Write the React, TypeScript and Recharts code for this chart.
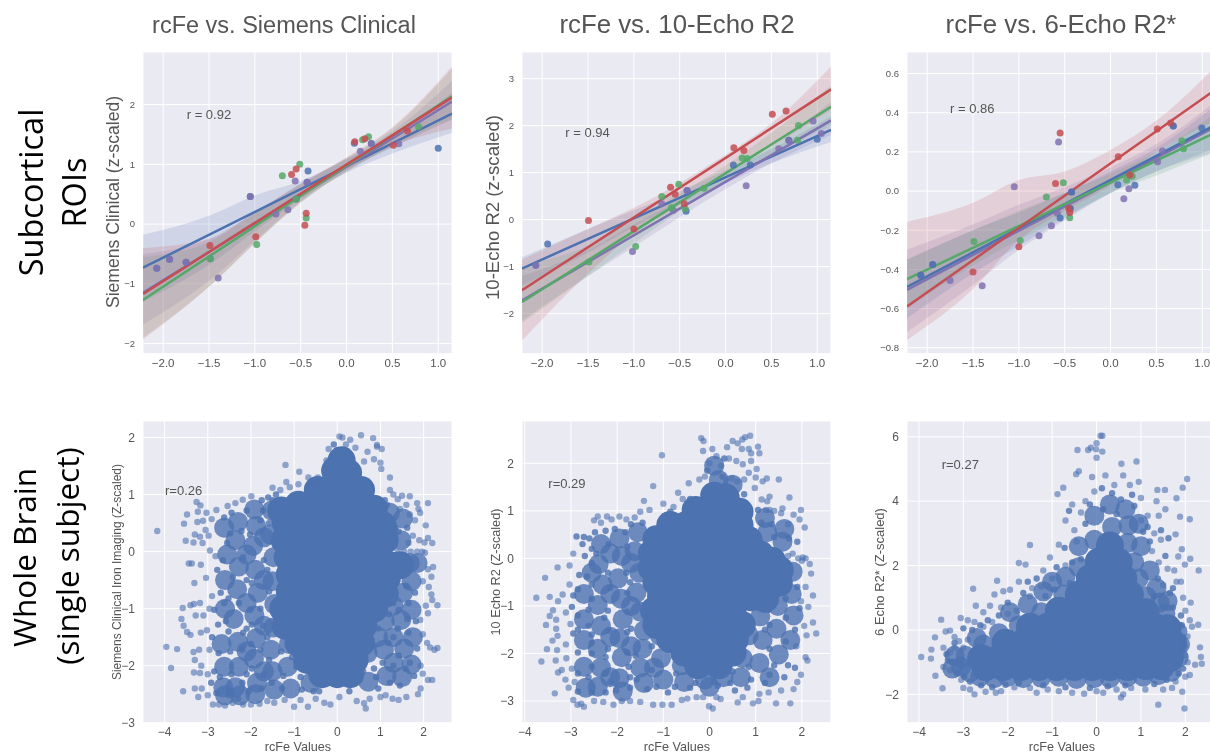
import {
  ComposedChart,
  CartesianGrid,
  XAxis,
  YAxis,
  Area,
  Line,
  Scatter,
} from "recharts";

const BLUE = "#4C72B0";
const GREEN = "#55A868";
const RED = "#C44E52";
const PURPLE = "#8172B2";
const TEXT = "#555555";

// regression lines run edge to edge, bands are read at these x positions
const lineX = [-2.22, 1.15];
const bandX = [-2.22, -1.5, -1, -0.5, 0, 0.5, 1.15];

// --- top row: Siemens Clinical ---
const clinicalBlueLine = [-0.73, 1.85];
const clinicalPurpleLine = [-1.15, 2.05];
const clinicalGreenLine = [-1.27, 2.14];
const clinicalRedLine = [-1.17, 2.12];
const clinicalBlueBand = [[-1.3, -0.18], [-0.68, 0.14], [-0.12, 0.48], [0.42, 0.72], [0.86, 1.08], [1.18, 1.48], [1.53, 2.2]];
const clinicalPurpleBand = [[-1.68, -0.5], [-0.95, -0.25], [-0.28, 0.2], [0.38, 0.68], [0.9, 1.1], [1.28, 1.55], [1.75, 2.4]];
const clinicalGreenBand = [[-1.9, -0.55], [-1.05, -0.3], [-0.32, 0.18], [0.36, 0.66], [0.88, 1.1], [1.3, 1.6], [1.75, 2.6]];
const clinicalRedBand = [[-1.93, -0.4], [-1.05, -0.25], [-0.32, 0.2], [0.36, 0.68], [0.88, 1.12], [1.3, 1.62], [1.6, 2.64]];
const clinicalBluePts = [[-2.07, -0.74], [-1.93, -0.59], [-1.75, -0.64], [-1.05, 0.46], [-0.55, 0.42], [-0.43, 0.7], [-0.42, 0.89], [0.085, 1.355], [0.27, 1.35], [1.0, 1.27]];
const clinicalPurplePts = [[-2.07, -0.74], [-1.93, -0.59], [-1.75, -0.64], [-1.485, -0.58], [-1.4, -0.9], [-1.05, 0.46], [-0.77, 0.17], [-0.64, 0.24], [-0.56, 0.72], [-0.55, 0.42], [-0.43, 0.7], [0.15, 1.22], [0.27, 1.35], [0.57, 1.345]];
const clinicalGreenPts = [[-1.485, -0.58], [-0.98, -0.34], [-0.7, 0.81], [-0.55, 0.42], [-0.51, 1.0], [-0.44, 0.1], [0.175, 1.41], [0.24, 1.46], [0.785, 1.63]];
const clinicalRedPts = [[-1.49, -0.36], [-0.99, -0.21], [-0.6, 0.83], [-0.55, 0.92], [-0.455, -0.02], [-0.44, 0.18], [0.09, 1.38], [0.2, 1.43], [0.51, 1.32], [0.665, 1.56]];

// --- top row: 10-Echo R2 ---
const echo10BlueLine = [-1.04, 1.91];
const echo10PurpleLine = [-1.72, 2.11];
const echo10GreenLine = [-1.75, 2.4];
const echo10RedLine = [-1.5, 2.77];
const echo10BlueBand = [[-1.4, -0.8], [-0.7, -0.2], [-0.15, 0.2], [0.32, 0.6], [0.78, 1.05], [1.2, 1.5], [1.65, 2.2]];
const echo10PurpleBand = [[-2.15, -1.2], [-1.2, -0.65], [-0.58, -0.1], [0.05, 0.42], [0.65, 0.98], [1.2, 1.55], [1.8, 2.5]];
const echo10GreenBand = [[-2.2, -1.0], [-1.2, -0.55], [-0.5, 0.0], [0.18, 0.55], [0.82, 1.15], [1.38, 1.85], [2.0, 2.85]];
const echo10RedBand = [[-2.57, -0.85], [-1.15, -0.2], [-0.3, 0.25], [0.3, 0.78], [0.98, 1.38], [1.55, 2.05], [2.33, 3.26]];
const echo10BluePts = [[-2.07, -0.97], [-1.94, -0.52], [-0.43, 0.18], [-0.42, 0.62], [0.085, 1.16], [0.27, 1.16], [0.69, 1.69], [1.0, 1.71]];
const echo10PurplePts = [[-2.07, -0.97], [-1.015, -0.68], [-0.695, 0.34], [-0.57, 0.2], [-0.42, 0.62], [0.225, 0.72], [0.58, 1.51], [0.69, 1.69], [0.955, 2.1], [1.045, 1.83]];
const echo10GreenPts = [[-1.49, -0.9], [-0.98, -0.57], [-0.695, 0.49], [-0.59, 0.25], [-0.51, 0.75], [-0.44, 0.23], [-0.235, 0.67], [0.18, 1.31], [0.235, 1.3], [0.785, 1.69], [0.795, 2.0]];
const echo10RedPts = [[-1.495, -0.02], [-1.0, -0.2], [-0.6, 0.69], [-0.55, 0.54], [-0.45, 0.34], [0.09, 1.53], [0.2, 1.47], [0.51, 2.24], [0.66, 2.31]];

// --- top row: 6-Echo R2* ---
const echo6BlueLine = [-0.49, 0.34];
const echo6PurpleLine = [-0.505, 0.33];
const echo6GreenLine = [-0.45, 0.3];
const echo6RedLine = [-0.59, 0.52];
const echo6BlueBand = [[-0.65, -0.35], [-0.42, -0.2], [-0.28, -0.11], [-0.14, -0.01], [-0.01, 0.1], [0.1, 0.22], [0.22, 0.44]];
const echo6PurpleBand = [[-0.72, -0.3], [-0.48, -0.17], [-0.3, -0.07], [-0.15, 0.02], [-0.01, 0.12], [0.1, 0.24], [0.2, 0.46]];
const echo6GreenBand = [[-0.6, -0.35], [-0.38, -0.2], [-0.25, -0.1], [-0.13, -0.01], [-0.01, 0.09], [0.08, 0.2], [0.2, 0.4]];
const echo6RedBand = [[-0.76, -0.157], [-0.5, -0.06], [-0.25, 0.056], [-0.1, 0.1], [0.03, 0.21], [0.2, 0.36], [0.36, 0.64]];
const echo6BluePts = [[-2.07, -0.43], [-1.94, -0.375], [-0.55, -0.138], [-0.44, -0.089], [-0.425, -0.005], [0.08, 0.032], [0.265, 0.029], [0.684, 0.332], [0.996, 0.322]];
const echo6PurplePts = [[-2.07, -0.43], [-1.94, -0.375], [-1.75, -0.457], [-1.4, -0.484], [-1.05, 0.022], [-0.78, -0.228], [-0.645, -0.177], [-0.58, -0.114], [-0.567, 0.25], [-0.44, -0.089], [-0.425, -0.005], [0.145, -0.039], [0.2, 0.012], [0.513, 0.15], [0.567, 0.204], [0.684, 0.332]];
const echo6GreenPts = [[-1.49, -0.257], [-0.985, -0.252], [-0.7, -0.031], [-0.515, 0.043], [-0.445, -0.136], [0.175, 0.056], [0.236, 0.075], [0.778, 0.257], [0.796, 0.216]];
const echo6RedPts = [[-1.5, -0.414], [-1.0, -0.285], [-0.6, 0.039], [-0.55, 0.296], [-0.455, -0.089], [-0.445, -0.109], [0.084, 0.175], [0.21, 0.082], [0.51, 0.317], [0.655, 0.348]];

// --- bottom row clouds: the solid centre is thousands of overlapping dots in the
// original, so it is thinned to big dots (core), medium dots (mid) and single dots (edge, speck) ---
const clinicalCore = [[0.1, 1.6], [-0.05, 1.42], [0.25, 1.38], [-0.45, 1.08], [-0.1, 1.12], [0.25, 1.1], [0.55, 1.08], [-1.3, 0.72], [-0.9, 0.82], [-0.55, 0.8], [-0.15, 0.82], [0.2, 0.8], [0.55, 0.78], [0.85, 0.75], [-1.2, 0.52], [-0.8, 0.5], [-0.4, 0.5], [0, 0.5], [0.4, 0.5], [0.8, 0.5], [1.05, 0.46], [-1.22, 0.2], [-0.8, 0.2], [-0.4, 0.2], [0, 0.2], [0.4, 0.2], [0.82, 0.2], [1.1, 0.2], [-1.15, -0.1], [-0.75, -0.1], [-0.35, -0.1], [0.05, -0.1], [0.45, -0.1], [0.85, -0.1], [1.2, -0.24], [1.45, -0.24], [-1.1, -0.4], [-0.7, -0.4], [-0.3, -0.4], [0.1, -0.4], [0.5, -0.4], [0.9, -0.42], [1.15, -0.46], [-1.1, -0.7], [-0.7, -0.7], [-0.3, -0.7], [0.1, -0.7], [0.5, -0.7], [0.85, -0.72], [1.1, -0.74], [-1.25, -1.0], [-1.0, -1.0], [-0.6, -1.0], [-0.2, -1.0], [0.2, -1.0], [0.55, -1.0], [0.85, -1.0], [-1.2, -1.3], [-0.9, -1.3], [-0.5, -1.3], [-0.1, -1.3], [0.3, -1.3], [0.6, -1.3], [-0.9, -1.6], [-0.6, -1.6], [-0.25, -1.6], [0.1, -1.6], [0.3, -1.55], [0.55, -1.6], [-0.7, -1.9], [-0.38, -1.9], [-0.05, -1.9], [0.15, -1.9], [0.4, -1.9], [-0.35, -2.15], [0, -2.15], [0.3, -2.15]];
const clinicalMid = [[-1.52, 0.72], [-1.56, 0.3], [-1.48, -0.1], [-1.5, -0.52], [-1.46, -0.92], [-1.48, -1.33], [-1.54, -1.72], [-1.5, -2.1], [-1.46, -2.42], [-1.92, 0.74], [-1.88, 0.45], [-1.95, 0.1], [-1.9, -0.32], [-1.84, -0.72], [-1.92, -1.12], [-1.88, -1.52], [-1.93, -1.88], [-1.86, -2.3], [-1.9, -2.5], [-2.3, 0.52], [-2.36, 0.2], [-2.28, -0.26], [-2.32, -0.66], [-2.4, -1.18], [-2.3, -1.58], [-2.28, -2.02], [-2.36, -2.38], [-2.25, -2.52], [-2.68, -1.62], [-2.62, -2.02], [-2.64, -2.38], [-2.6, -2.52], [-1.12, -1.62], [-1.15, -2.02], [-1.08, -2.4], [-0.62, -2.3], [0.35, -2.1], [0.7, -1.78], [0.72, -2.28], [1.1, -1.22], [1.08, -1.72], [1.14, -2.18], [1.52, -0.72], [1.48, -1.2], [1.55, -1.7], [1.5, -2.2], [1.72, -0.52], [1.72, -1.02], [1.75, -1.5], [1.72, -1.98], [1.22, 0.68], [1.18, 0.38], [1.52, 0.58], [1.48, 0.2], [1.68, -0.2], [1.86, -0.2], [-2.62, 0.42], [-2.6, -0.5], [-2.6, -1.0], [-2.1, -0.05], [-2.1, -0.9], [-2.1, -1.75], [-1.7, 0.25], [-1.7, -0.5], [-1.7, -1.3], [-1.7, -2.1], [-2.55, -0.05], [1.3, -0.95], [1.3, -1.5], [1.3, -1.95], [0.95, -1.5]];
const clinicalEdge = [[-4.17, 0.36], [-3.96, -1.67], [-3.71, -1.71], [-3.85, -2.04], [-3.57, -2.45], [-3.61, -1.18], [-3.58, -0.99], [-3.56, -1.3], [-3.48, -1.41], [-3.4, -1.46], [-3.44, -0.21], [-3.37, -0.21], [-3.16, -0.23], [-3.31, -0.55], [-3.04, -0.46], [-3.26, 0.87], [-3.17, 0.81], [-3.48, 0.65], [-3.55, 0.49], [-3.51, 0.19], [-3.23, 0.7], [-3.03, 0.68], [-3.24, 0.52], [-3.11, 0.54], [-2.91, 0.57], [-2.8, 0.73], [-2.54, 0.8], [-2.36, 0.85], [-2.19, 0.91], [-1.99, 0.97], [-3.3, 0.3], [-3.18, 0.26], [-3.05, 0.38], [-3.12, 0.15], [-3.33, 0.16], [-2.95, 0.02], [-2.82, -0.08], [-2.98, 0.28], [-3.4, -0.94], [-3.32, -0.92], [-3.18, -0.9], [-3.1, -1.12], [-3.28, -1.12], [-3.02, -1.38], [-3.16, -1.42], [-2.9, -0.78], [-2.96, -1.0], [-3.33, -1.76], [-3.2, -1.72], [-3.3, -1.9], [-3.15, -2.0], [-3.32, -2.12], [-3.18, -2.13], [-3.3, -2.4], [-3.22, -2.55], [-3.14, -2.4], [-3.0, -2.52], [-2.96, -1.72], [-3.0, -2.15], [-2.88, -2.68], [-2.74, -2.68], [-2.6, -2.7], [-2.42, -2.65], [-2.18, -2.68], [-2.0, -2.68], [-1.8, -2.67], [-1.62, -2.62], [-1.46, -2.65], [-1.22, -2.6], [-1.0, -2.72], [-0.85, -2.6], [-0.68, -2.72], [-0.5, -2.58], [-0.3, -2.65], [-0.16, -2.68], [0.05, -2.55], [0.45, -2.62], [0.62, -2.66], [0.66, -2.75], [0.75, -2.58], [1.0, -2.55], [1.12, -2.52], [1.28, -2.58], [1.42, -2.6], [1.6, -2.55], [1.87, -2.5], [1.93, -2.4], [2.1, -2.25], [2.2, -2.25], [1.93, -2.0], [1.98, -2.14], [2.08, -1.6], [2.15, -1.68], [2.32, -1.69], [2.25, -1.72], [1.98, -1.45], [1.92, -1.2], [2.1, -1.08], [2.05, -0.95], [2.18, -0.75], [2.32, -0.94], [2.2, -0.85], [2.12, -0.62], [2.18, -0.44], [2.1, -0.31], [2.22, -0.27], [1.98, -0.52], [2.2, 0.15], [2.02, 0.16], [2.1, 0.24], [2.05, 0.46], [1.92, 0.68], [2.1, 0.85], [1.85, 0.85], [1.88, 0.75], [1.8, 0.55], [1.68, 0.65], [1.6, 0.82], [1.68, 0.97], [1.5, 0.98], [1.3, 1.0], [1.4, 0.92], [1.45, 0.75], [1.22, 1.08], [1.22, 1.3], [1.0, 1.56], [1.03, 1.8], [0.92, 1.84], [0.92, 1.87], [0.83, 1.99], [0.55, 2.04], [0.3, 1.96], [0.05, 2.02], [0.12, 2.0], [0.2, 1.88], [0.42, 1.82], [0.7, 1.75], [0.85, 1.62], [0.62, 1.58], [1.02, 1.45], [-1.2, 1.52], [-0.88, 1.4], [-0.67, 1.3], [-0.2, 1.8], [-0.25, 1.6], [-0.12, 1.66], [-1.18, 1.22], [-1.5, 1.12], [-1.32, 1.08], [-1.1, 1.13], [-0.9, 1.18], [-0.6, 1.22], [-0.45, 1.3], [1.4, 0.0], [1.55, 0.0], [1.7, 0.0], [1.85, 0.0], [1.97, 0.0], [2.03, -0.02], [1.65, 0.15], [1.75, 0.28], [1.9, 0.2]];
const clinicalSpeck = [[-2.62, 0.6], [-2.45, 0.68], [-2.1, 0.72], [-1.75, 0.9], [-1.6, 0.95], [-2.55, 0.15], [-2.78, -0.32], [-2.7, -0.72], [-2.52, -0.82], [-2.76, -1.28], [-2.9, -1.5], [-2.85, -2.1], [-2.52, -1.4], [-2.1, -1.35], [-1.7, -0.15], [-1.72, -1.3], [-2.1, -0.5], [-1.7, -2.15], [-2.1, -2.15], [-1.25, -2.18], [-0.85, -2.2], [-0.42, -2.45], [0.28, -2.45], [0.85, -2.05], [0.95, -2.4], [1.3, -1.5], [1.3, -2.0], [1.65, -1.42], [1.68, -1.95], [1.3, -0.9], [1.65, -0.9], [0.95, -1.35], [-2.48, 0.32], [-2.22, 0.36], [-2.02, 0.3], [-1.78, 0.55], [-1.58, 0.5], [-2.65, -0.15], [-2.42, -0.45], [-2.18, -0.1], [-1.98, -0.55], [-1.62, -0.32], [-2.62, -0.9], [-2.28, -0.9], [-2.02, -1.02], [-1.78, -1.0], [-1.58, -0.7], [-2.85, -1.02], [-2.58, -1.22], [-2.18, -1.42], [-1.98, -1.28], [-1.62, -1.5], [-2.75, -1.78], [-2.48, -1.75], [-2.2, -1.72], [-2.0, -1.62], [-1.78, -1.72], [-1.58, -1.9], [-2.92, -2.3], [-2.72, -2.2], [-2.45, -2.15], [-2.2, -2.3], [-1.98, -2.05], [-1.75, -2.4], [-1.52, -2.3], [-2.8, -2.48], [-2.5, -2.52], [-2.3, -2.58], [-2.05, -2.45], [-1.3, -1.75], [-1.28, -2.4], [-1.05, -1.85], [-0.95, -2.02], [-0.82, -2.42], [-0.62, -2.12], [-0.55, -2.45], [0.5, -2.25], [0.6, -2.1], [0.85, -1.65], [0.9, -2.2], [1.05, -1.95], [1.2, -1.1], [1.18, -1.6], [1.22, -2.3], [1.42, -1.02], [1.4, -1.35], [1.42, -1.82], [1.45, -2.35], [1.6, -0.6], [1.62, -1.18], [1.58, -2.05], [1.8, -0.72], [1.82, -1.22], [1.85, -1.7], [1.78, -2.18], [1.35, 0.42], [1.25, 0.52], [1.62, 0.42], [1.42, 0.35], [1.1, 0.9], [1.15, 0.82], [-1.5, 0.9], [-1.72, 0.72], [-1.42, 1.0], [0.0, 1.78], [0.25, 1.7], [-0.08, 1.88]];

const echo10Core = [[0.1, 1.32], [0.35, 1.28], [-0.3, 1.02], [0.05, 1.0], [0.4, 1.0], [0.65, 0.98], [-0.85, 0.7], [-0.5, 0.7], [-0.1, 0.7], [0.3, 0.7], [0.65, 0.7], [-1.15, 0.4], [-0.75, 0.4], [-0.35, 0.4], [0.05, 0.4], [0.45, 0.4], [0.85, 0.38], [-1.25, 0.1], [-0.85, 0.1], [-0.45, 0.1], [-0.05, 0.1], [0.35, 0.1], [0.75, 0.1], [1.1, 0.08], [1.35, -0.05], [-1.25, -0.2], [-0.85, -0.2], [-0.45, -0.2], [-0.05, -0.2], [0.35, -0.2], [0.75, -0.2], [1.15, -0.2], [1.52, -0.25], [-1.15, -0.5], [-0.75, -0.5], [-0.35, -0.5], [0.05, -0.5], [0.45, -0.5], [0.85, -0.5], [1.2, -0.5], [1.5, -0.52], [-1.05, -0.8], [-0.65, -0.8], [-0.25, -0.8], [0.15, -0.8], [0.5, -0.8], [0.9, -0.82], [1.2, -0.85], [-1.2, -1.1], [-0.95, -1.1], [-0.55, -1.1], [-0.15, -1.1], [0.2, -1.1], [0.5, -1.08], [-1.15, -1.4], [-0.7, -1.4], [-0.3, -1.4], [0.1, -1.4], [0.4, -1.38], [0.7, -1.4], [-0.85, -1.7], [-0.45, -1.7], [-0.1, -1.7], [0.25, -1.7], [0.55, -1.7], [-0.55, -1.98], [-0.15, -1.98], [0.2, -1.98], [0.5, -1.98], [-0.25, -2.25], [0.2, -2.25]];
const echo10Mid = [[-1.55, 0.55], [-1.62, 0.15], [-1.52, -0.3], [-1.58, -0.72], [-1.5, -1.12], [-1.42, -1.52], [-1.45, -1.9], [-1.5, -2.3], [-1.42, -2.62], [-1.95, 0.42], [-1.9, 0.05], [-1.98, -0.42], [-1.92, -0.85], [-1.88, -1.28], [-1.95, -1.68], [-1.9, -2.08], [-1.95, -2.52], [-1.88, -2.8], [-2.35, 0.3], [-2.4, -0.12], [-2.32, -0.55], [-2.42, -0.98], [-2.35, -1.42], [-2.42, -1.9], [-2.35, -2.3], [-2.42, -2.7], [-2.72, -0.75], [-2.72, -1.28], [-2.72, -1.72], [-2.72, -2.28], [-2.68, -2.72], [-1.08, -1.62], [-1.05, -2.1], [-1.0, -2.55], [-0.6, -2.25], [-0.55, -2.6], [-0.1, -2.55], [0.3, -2.5], [0.85, -1.62], [0.72, -2.1], [0.68, -2.5], [1.1, -1.22], [1.15, -1.72], [1.08, -2.2], [1.48, -1.0], [1.45, -1.48], [1.5, -2.02], [1.78, -0.75], [1.82, -1.2], [1.75, -1.72], [1.25, 0.55], [1.2, 0.85], [1.58, 0.35], [1.62, 0.62], [1.8, -0.28], [0.2, 1.65], [0.1, 1.95], [0.5, 1.55], [-2.15, 0.1], [-2.15, -0.75], [-2.15, -1.65], [-2.15, -2.5], [-1.7, -0.1], [-1.7, -1.0], [-1.7, -1.85], [-1.2, -2.3], [0.0, -2.7], [1.3, -2.5], [-2.55, -0.3]];
const echo10Edge = [[-3.75, -0.83], [-3.56, -0.41], [-3.29, -0.19], [-3.03, -0.15], [-2.95, 0.1], [-3.46, -0.81], [-3.28, -0.9], [-3.18, -0.76], [-3.03, -0.55], [-3.39, -1.09], [-3.46, -1.21], [-3.54, -1.4], [-3.32, -1.29], [-3.32, -1.48], [-3.29, -1.63], [-3.4, -1.73], [-3.52, -1.91], [-3.3, -1.93], [-3.64, -2.17], [-3.33, -2.15], [-3.35, -2.84], [-3.11, -1.14], [-3.01, -1.38], [-3.11, -1.81], [-3.1, -2.1], [-3.28, -2.4], [-3.2, -2.35], [-3.12, -2.55], [-3.05, -2.72], [-2.98, -2.32], [-2.92, -2.6], [-2.95, -2.98], [-2.86, -3.08], [-2.78, -3.06], [-2.72, -3.12], [-2.5, -3.0], [-2.3, -3.02], [-2.08, -3.08], [-1.9, -3.0], [-1.72, -3.0], [-1.5, -3.02], [-1.22, -3.08], [-1.02, -3.08], [-0.82, -3.08], [-0.6, -2.98], [-0.48, -2.95], [-0.28, -2.92], [-0.14, -2.92], [-0.01, -3.11], [0.07, -3.16], [0.15, -2.92], [0.24, -2.96], [0.61, -3.03], [0.72, -2.92], [0.94, -3.05], [1.06, -3.0], [1.08, -2.85], [1.28, -2.82], [1.44, -3.05], [1.55, -2.78], [1.75, -3.05], [1.82, -2.75], [1.9, -2.6], [1.98, -2.45], [2.12, -2.15], [2.08, -2.08], [1.88, -1.85], [2.1, -1.62], [2.31, -1.58], [2.24, -1.35], [2.05, -1.42], [2.14, -1.02], [2.24, -0.78], [2.2, -0.32], [2.17, -0.12], [2.08, -0.6], [1.98, -0.9], [2.02, 0.02], [2.08, 0.0], [2.0, -0.05], [1.92, 0.0], [1.8, 0.1], [1.7, 0.05], [2.06, 0.65], [1.98, 1.02], [1.95, 0.82], [1.82, 0.92], [1.7, 0.72], [1.55, 0.95], [1.58, 1.05], [1.4, 1.0], [1.3, 1.02], [1.22, 1.02], [1.3, 1.3], [1.25, 1.2], [1.13, 1.24], [1.73, 1.28], [1.5, 1.66], [1.24, 1.68], [1.15, 1.62], [1.0, 1.7], [0.98, 1.48], [0.75, 1.66], [0.6, 1.62], [0.48, 1.68], [1.05, 2.35], [1.08, 2.21], [0.9, 2.21], [0.88, 2.58], [0.77, 2.55], [0.71, 2.5], [0.61, 2.42], [0.5, 2.47], [0.38, 2.34], [0.85, 2.3], [0.7, 2.3], [0.58, 2.05], [0.42, 2.1], [0.72, 1.98], [0.9, 2.05], [1.02, 1.88], [0.85, 1.8], [0.06, 2.3], [-0.14, 2.26], [-0.18, 2.53], [-0.13, 2.47], [0.15, 2.15], [0.25, 1.95], [0.0, 2.0], [-0.1, 1.72], [-0.22, 1.66], [-1.03, 2.17], [-1.22, 1.52], [-1.42, 1.21], [-0.68, 1.38], [-0.58, 1.25], [-0.45, 1.58], [-1.0, 1.15], [-0.78, 1.08], [-1.3, 1.02], [-1.5, 0.98], [-1.62, 0.86], [-1.8, 0.82], [-1.95, 0.88], [-2.12, 0.82], [-2.22, 0.88], [-2.35, 0.75], [-2.42, 0.88], [-2.5, 0.8]];
const echo10Speck = [[-2.6, 0.42], [-2.75, 0.3], [-2.7, 0.05], [-2.88, 0.46], [-2.72, 0.45], [-2.55, 0.2], [-2.45, 0.1], [-2.65, -0.38], [-2.85, -0.65], [-2.95, -0.78], [-2.98, -1.02], [-2.62, -1.08], [-2.55, -1.6], [-2.95, -1.58], [-2.55, -2.0], [-2.62, -2.5], [-2.2, -1.1], [-2.2, -1.9], [-2.15, -2.6], [-1.72, -0.5], [-1.7, -1.48], [-1.72, -2.5], [-1.25, -1.85], [-1.25, -2.35], [-0.75, -2.7], [-0.3, -2.62], [0.1, -2.6], [0.45, -2.62], [0.9, -2.55], [1.3, -2.45], [1.3, -1.9], [1.65, -1.75], [1.7, -2.25], [1.65, -1.25], [1.3, -1.4], [-2.25, 0.58], [-2.05, 0.62], [-1.82, 0.55], [-1.7, 0.72], [-1.45, 0.75], [-2.48, 0.55], [-2.18, 0.3], [-1.78, 0.25], [-2.55, -0.1], [-2.2, -0.3], [-1.8, -0.3], [-2.82, -0.35], [-2.55, -0.55], [-2.15, -0.62], [-1.78, -0.72], [-2.85, -1.2], [-2.55, -0.85], [-2.28, -1.25], [-1.78, -1.12], [-2.85, -1.5], [-2.62, -1.42], [-2.18, -1.52], [-1.78, -1.55], [-2.85, -1.98], [-2.55, -1.78], [-2.25, -2.08], [-1.78, -1.98], [-1.6, -2.05], [-2.85, -2.42], [-2.55, -2.28], [-2.25, -2.42], [-1.75, -2.28], [-1.58, -2.55], [-2.85, -2.8], [-2.55, -2.82], [-2.25, -2.82], [-2.02, -2.78], [-1.72, -2.72], [-1.35, -2.75], [-1.15, -2.7], [-0.9, -2.82], [-0.42, -2.72], [-0.72, -2.42], [-0.38, -2.38], [0.18, -2.68], [0.5, -2.38], [0.55, -2.78], [0.85, -2.28], [0.82, -2.72], [1.2, -2.62], [1.2, -1.5], [1.28, -1.08], [1.4, -2.25], [1.62, -2.5], [1.85, -2.3], [1.85, -1.5], [1.95, -1.05], [1.9, -0.6], [1.65, -0.85], [1.4, 0.45], [1.35, 0.72], [1.72, 0.42], [1.9, 0.35], [1.12, 0.75], [1.05, 1.02], [0.32, 2.1], [-0.05, 1.85], [0.28, 1.72], [0.75, 1.35], [-0.42, 1.25], [-0.85, 0.98]];

const echo6Core = [[0.3, 2.62], [0.05, 2.12], [0.5, 2.1], [-0.15, 1.6], [0.25, 1.6], [0.6, 1.6], [-0.4, 1.1], [0, 1.1], [0.4, 1.1], [0.75, 1.1], [-0.85, 0.6], [-0.45, 0.6], [-0.05, 0.6], [0.35, 0.6], [0.75, 0.6], [1.1, 0.55], [-1.5, 0.1], [-1.1, 0.1], [-0.7, 0.1], [-0.3, 0.1], [0.1, 0.1], [0.5, 0.1], [0.9, 0.1], [1.3, 0.1], [1.6, 0.05], [-2.05, -0.4], [-1.65, -0.4], [-1.25, -0.4], [-0.85, -0.4], [-0.45, -0.4], [-0.05, -0.4], [0.35, -0.4], [0.75, -0.4], [1.15, -0.4], [1.5, -0.4], [1.72, -0.42], [-2.6, -0.88], [-2.2, -0.88], [-1.8, -0.88], [-1.4, -0.88], [-1.0, -0.88], [-0.6, -0.88], [-0.2, -0.88], [0.2, -0.88], [0.6, -0.88], [1.0, -0.88], [1.35, -0.88], [1.65, -0.88], [-2.5, -1.15], [-2.1, -1.15], [-1.7, -1.15], [-1.3, -1.15], [-0.9, -1.15], [-0.5, -1.15], [-0.1, -1.15], [0.3, -1.15], [0.7, -1.15], [1.1, -1.12], [1.45, -1.12]];
const echo6Mid = [[-2.85, -1.32], [-2.62, -1.45], [-2.3, -1.5], [-2.0, -1.45], [-1.65, -1.5], [-1.25, -1.48], [-0.85, -1.45], [-0.45, -1.52], [-0.05, -1.5], [0.3, -1.5], [0.7, -1.45], [1.05, -1.45], [1.4, -1.4], [1.68, -1.3], [1.85, -0.85], [1.88, -0.45], [1.82, -0.05], [1.55, 0.5], [1.42, 0.85], [1.12, 1.05], [0.95, 1.6], [0.85, 2.1], [0.7, 2.7], [0.35, 3.2], [0.72, 3.25], [-0.05, 2.8], [-0.4, 1.95], [-0.75, 1.1], [-1.25, 0.55], [-1.75, 0.15], [-2.2, -0.1], [-2.55, -0.45], [-2.95, -0.8], [-3.05, -1.15], [-1.55, 0.8], [-1.0, 1.5], [0.3, 3.9], [0.65, 3.75], [-0.05, 3.55], [1.35, 1.3], [1.6, 0.9], [-2.7, -0.25], [-1.95, 0.55], [-1.2, 1.2], [-0.7, 1.65], [-0.4, 2.6], [1.2, 1.85], [1.0, 2.6], [0.95, 3.3], [-3.2, -0.8], [-3.25, -1.2]];
const echo6Edge = [[-3.95, -0.84], [-3.72, -0.61], [-3.73, -0.89], [-3.64, -0.23], [-3.63, -1.42], [-3.47, -1.81], [-3.5, 0.32], [-3.06, 0.37], [-2.78, 1.28], [-2.24, 1.53], [-1.75, 2.08], [-1.6, 2.03], [-1.5, 2.64], [-0.88, 4.22], [-0.75, 4.42], [-0.43, 5.59], [-0.46, 4.84], [-0.4, 4.93], [-0.19, 5.59], [-0.13, 5.66], [-0.01, 5.61], [0, 5.8], [0.09, 6.03], [0.13, 6.03], [0, 5.35], [0.13, 5.54], [0.56, 5.16], [0.9, 5.23], [2.04, 4.69], [1.94, 4.42], [1.37, 4.35], [1.54, 4.35], [1.8, 4.09], [2.1, 3.44], [1.88, 3.52], [1.78, 2.97], [1.92, 2.51], [2.11, 2.21], [2.3, 1.85], [1.99, 2.03], [1.84, 2.28], [2.29, 0.16], [2.33, -0.54], [2.35, -0.84], [2.37, -1.05], [2.22, -1.08], [1.39, -2.32], [1.98, -2.44], [0.6, -2.0], [0.55, -2.1], [-3.4, -0.05], [-3.3, -0.02], [-3.2, -0.22], [-3.45, -0.55], [-3.3, -0.7], [-3.2, -0.55], [-3.35, -0.95], [-3.45, -1.15], [-3.3, -1.25], [-3.15, -1.35], [-3.05, -1.55], [-3.0, -1.8], [-2.85, -1.85], [-2.75, -2.0], [-2.5, -1.92], [-2.27, -1.95], [-2.15, -1.9], [-1.85, -1.78], [-1.5, -1.8], [-1.35, -1.95], [-1.1, -1.85], [-0.85, -1.9], [-0.55, -1.95], [-0.28, -1.98], [0, -1.9], [0.15, -1.95], [0.45, -1.85], [0.78, -1.8], [1.1, -1.85], [1.5, -1.85], [1.7, -1.8], [1.93, -1.92], [1.78, -1.6], [2.0, -1.45], [2.1, -1.4], [2.05, -1.0], [2.0, -0.8], [1.98, -0.5], [2.05, -0.2], [2.15, 0.1], [2.1, 0.3], [2.0, 0.6], [2.12, 0.85], [1.95, 1.0], [1.8, 1.5], [1.9, 1.5], [1.75, 1.85], [1.6, 1.9], [1.5, 1.4], [1.4, 2.1], [1.25, 2.45], [1.45, 2.8], [1.3, 3.0], [1.0, 3.4], [1.15, 3.55], [1.4, 3.55], [1.55, 3.75], [1.35, 4.0], [1.0, 4.1], [0.95, 4.6], [0.75, 4.5], [0.6, 4.8], [0.4, 4.5], [0.2, 4.8], [-0.1, 4.75], [-0.05, 4.3], [-0.25, 4.0], [-0.55, 3.9], [-0.35, 3.65], [-0.7, 3.4], [-0.5, 3.1], [-0.85, 2.65], [-0.45, 2.75], [-0.7, 2.0], [-1.05, 2.25], [-1.2, 1.85], [-1.0, 1.6], [-1.25, 1.35], [-1.45, 1.3], [-1.75, 1.5], [-1.95, 1.25], [-2.1, 1.2], [-2.3, 1.1], [-2.15, 0.7], [-2.4, 0.75], [-2.55, 0.55], [-2.72, 0.75], [-2.9, 0.3], [-2.75, 0.25], [-2.55, 0.1], [-2.35, 0.25], [-2.0, 0.5], [-1.8, 0.6], [-1.5, 1.05], [-3.1, -0.35], [-2.9, -0.3], [-3.0, -0.55]];
const echo6Speck = [[0.35, 4.25], [0.55, 4.05], [0.8, 4.2], [0.12, 4.4], [-0.15, 3.9], [0.15, 3.75], [0.45, 3.6], [0.85, 3.85], [1.15, 3.2], [1.45, 3.1], [1.62, 2.85], [1.55, 2.3], [1.2, 2.75], [1.05, 3.05], [-0.25, 3.3], [-0.62, 3.7], [-0.72, 2.55], [-0.35, 2.2], [-0.9, 1.95], [-1.35, 1.6], [-1.55, 1.5], [-1.65, 1.15], [-2.0, 0.85], [-2.2, 0.45], [-2.45, 0.3], [-2.62, 0.15], [-2.8, 0.0], [-3.0, 0.05], [-3.2, -0.4], [-3.38, -0.75], [-3.25, -1.0], [-3.05, -1.1], [-2.98, -1.45], [-2.85, -1.6], [-2.6, -1.72], [-2.35, -1.78], [-2.05, -1.7], [-1.75, -1.65], [-1.2, -1.72], [-0.7, -1.78], [-0.15, -1.8], [0.25, -1.75], [0.65, -1.72], [1.3, -1.68], [1.58, -1.55], [1.85, -1.35], [1.95, -1.2], [1.95, -0.25], [1.92, 0.15], [1.9, 0.45], [1.72, 0.7], [1.65, 1.15], [1.38, 1.6], [1.72, 1.3], [1.3, 1.05], [-0.95, 1.25], [-1.15, 1.05], [-0.6, 1.45], [-0.55, 2.1]];

const siemensXTicks = [-2, -1.5, -1, -0.5, 0, 0.5, 1];
const cloudXTicks = [-4, -3, -2, -1, 0, 1, 2];
const clinicalYTicks = [-2, -1, 0, 1, 2];
const echo10YTicks = [-2, -1, 0, 1, 2, 3];
const echo6YTicks = [-0.8, -0.6, -0.4, -0.2, 0, 0.2, 0.4, 0.6];
const clinicalCloudYTicks = [-3, -2, -1, 0, 1, 2];
const echo10CloudYTicks = [-3, -2, -1, 0, 1, 2];
const echo6CloudYTicks = [-2, 0, 2, 4, 6];

const toPoints = (pairs: number[][]) => pairs.map(([x, y]) => ({ x, y }));
const toLine = (ys: number[]) => ys.map((y, i) => ({ x: lineX[i], y }));
const toBand = (rows: number[][]) => rows.map((band, i) => ({ x: bandX[i], band }));
const minus = (digits: number) => (v: number) => v.toFixed(digits).replace("-", "−");

const Dot = (r: number, color: string, opacity: number) => (p: any) => (
  <circle cx={p.cx} cy={p.cy} r={r} fill={color} fillOpacity={opacity} />
);

const PLOT_W = 309;
const AXIS_W = 60;
const TOP_PAD = 10;
const AXIS_H = 30;

function Frame({ left, top, height, xDomain, yDomain, xTicks, yTicks, xDigits, yDigits, xSize, ySize, children }: any) {
  return (
    <div style={{ position: "absolute", left: left - AXIS_W, top: top - TOP_PAD }}>
      <ComposedChart
        width={AXIS_W + PLOT_W}
        height={TOP_PAD + height + AXIS_H}
        margin={{ top: TOP_PAD, right: 0, bottom: 0, left: 0 }}
      >
        <CartesianGrid fill="#EAEAF2" stroke="#ffffff" strokeWidth={1} />
        <XAxis
          dataKey="x"
          type="number"
          domain={xDomain}
          ticks={xTicks}
          interval={0}
          allowDataOverflow
          height={AXIS_H}
          axisLine={false}
          tickLine={false}
          tickSize={3}
          tickFormatter={minus(xDigits)}
          tick={{ fontSize: xSize, fill: TEXT, fontFamily: "Liberation Sans" }}
        />
        <YAxis
          type="number"
          domain={yDomain}
          ticks={yTicks}
          interval={0}
          allowDataOverflow
          width={AXIS_W}
          axisLine={false}
          tickLine={false}
          tickFormatter={minus(yDigits)}
          tick={{ fontSize: ySize, fill: TEXT, fontFamily: "Liberation Sans" }}
        />
        {children}
      </ComposedChart>
    </div>
  );
}

function fitSeries(color: string, band: number[][], line: number[], points: number[][]) {
  return [
    <Area key={color + "b"} data={toBand(band)} dataKey="band" type="monotone" stroke="none" fill={color} fillOpacity={0.17} dot={false} activeDot={false} isAnimationActive={false} />,
    <Line key={color + "l"} data={toLine(line)} dataKey="y" stroke={color} strokeWidth={2.5} dot={false} activeDot={false} isAnimationActive={false} />,
    <Scatter key={color + "p"} data={toPoints(points)} dataKey="y" shape={Dot(3.5, color, 0.85)} isAnimationActive={false} />,
  ];
}

function cloudSeries(core: number[][], mid: number[][], edge: number[][], speck: number[][]) {
  return [
    <Scatter key="mid" data={toPoints(mid)} dataKey="y" shape={Dot(10, BLUE, 0.8)} isAnimationActive={false} />,
    <Scatter key="core" data={toPoints(core)} dataKey="y" shape={Dot(14, BLUE, 1)} isAnimationActive={false} />,
    <Scatter key="edge" data={toPoints(edge)} dataKey="y" shape={Dot(3.2, BLUE, 0.6)} isAnimationActive={false} />,
    <Scatter key="speck" data={toPoints(speck)} dataKey="y" shape={Dot(3.2, BLUE, 0.8)} isAnimationActive={false} />,
  ];
}

function Caption({ x, y, size, color = TEXT, rotate = false, anchor = "middle", font = "Liberation Sans", children }: any) {
  return (
    <text
      x={x}
      y={y}
      fontSize={size}
      fill={color}
      textAnchor={anchor}
      style={{ fontFamily: font }}
      transform={rotate ? `rotate(-90 ${x} ${y})` : undefined}
    >
      {children}
    </text>
  );
}

export default function App() {
  return (
    <div style={{ position: "absolute", left: 0, top: 0, width: 1210, height: 753, overflow: "hidden", background: "#fff", filter: "blur(0.4px)" }}>
      <Frame left={143.3} top={51.7} height={301.6} xDomain={[-2.22, 1.15]} yDomain={[-2.167, 2.88]} xTicks={siemensXTicks} yTicks={clinicalYTicks} xDigits={1} yDigits={0} xSize={11.5} ySize={9.5}>
        {fitSeries(BLUE, clinicalBlueBand, clinicalBlueLine, clinicalBluePts)}
        {fitSeries(PURPLE, clinicalPurpleBand, clinicalPurpleLine, clinicalPurplePts)}
        {fitSeries(GREEN, clinicalGreenBand, clinicalGreenLine, clinicalGreenPts)}
        {fitSeries(RED, clinicalRedBand, clinicalRedLine, clinicalRedPts)}
      </Frame>
      <Frame left={522.3} top={51.7} height={301.6} xDomain={[-2.22, 1.15]} yDomain={[-2.85, 3.566]} xTicks={siemensXTicks} yTicks={echo10YTicks} xDigits={1} yDigits={0} xSize={11.5} ySize={9.5}>
        {fitSeries(BLUE, echo10BlueBand, echo10BlueLine, echo10BluePts)}
        {fitSeries(PURPLE, echo10PurpleBand, echo10PurpleLine, echo10PurplePts)}
        {fitSeries(GREEN, echo10GreenBand, echo10GreenLine, echo10GreenPts)}
        {fitSeries(RED, echo10RedBand, echo10RedLine, echo10RedPts)}
      </Frame>
      <Frame left={907} top={51.7} height={301.6} xDomain={[-2.22, 1.15]} yDomain={[-0.83, 0.71]} xTicks={siemensXTicks} yTicks={echo6YTicks} xDigits={1} yDigits={1} xSize={11.5} ySize={9.5}>
        {fitSeries(PURPLE, echo6PurpleBand, echo6PurpleLine, echo6PurplePts)}
        {fitSeries(BLUE, echo6BlueBand, echo6BlueLine, echo6BluePts)}
        {fitSeries(GREEN, echo6GreenBand, echo6GreenLine, echo6GreenPts)}
        {fitSeries(RED, echo6RedBand, echo6RedLine, echo6RedPts)}
      </Frame>

      <Frame left={143.3} top={421} height={301.7} xDomain={[-4.5, 2.657]} yDomain={[-3, 2.29]} xTicks={cloudXTicks} yTicks={clinicalCloudYTicks} xDigits={0} yDigits={0} xSize={12} ySize={12}>
        {cloudSeries(clinicalCore, clinicalMid, clinicalEdge, clinicalSpeck)}
      </Frame>
      <Frame left={522.3} top={421} height={301.7} xDomain={[-4.06, 2.63]} yDomain={[-3.457, 2.89]} xTicks={cloudXTicks} yTicks={echo10CloudYTicks} xDigits={0} yDigits={0} xSize={12} ySize={12}>
        {cloudSeries(echo10Core, echo10Mid, echo10Edge, echo10Speck)}
      </Frame>
      <Frame left={907} top={421} height={301.7} xDomain={[-4.27, 2.69]} yDomain={[-2.88, 6.49]} xTicks={cloudXTicks} yTicks={echo6CloudYTicks} xDigits={0} yDigits={0} xSize={12} ySize={12}>
        {cloudSeries(echo6Core, echo6Mid, echo6Edge, echo6Speck)}
      </Frame>

      <svg width={1210} height={753} style={{ position: "absolute", left: 0, top: 0, pointerEvents: "none" }}>
        <Caption x={284} y={33} size={23.5}>rcFe vs. Siemens Clinical</Caption>
        <Caption x={677} y={33} size={25.8}>rcFe vs. 10-Echo R2</Caption>
        <Caption x={1061} y={33} size={25.8}>rcFe vs. 6-Echo R2*</Caption>

        <Caption x={42.7} y={192.5} size={32.5} color="#000" rotate font="Open Sans">Subcortical</Caption>
        <Caption x={86} y={192.5} size={32.5} color="#000" rotate font="Open Sans">ROIs</Caption>
        <Caption x={36} y={557.5} size={31.5} color="#000" rotate font="Open Sans">Whole Brain</Caption>
        <Caption x={79} y={556} size={31.5} color="#000" rotate font="Open Sans">(single subject)</Caption>

        <Caption x={119} y={202} size={17.6} rotate>Siemens Clinical (z-scaled)</Caption>
        <Caption x={499} y={207.5} size={18.6} rotate>10-Echo R2 (z-scaled)</Caption>
        <Caption x={120.5} y={572} size={12} rotate>Siemens Clinical Iron Imaging (Z-scaled)</Caption>
        <Caption x={499.5} y={572} size={12.7} rotate>10 Echo R2 (Z-scaled)</Caption>
        <Caption x={884} y={572} size={13} rotate>6 Echo R2* (Z-scaled)</Caption>

        <Caption x={298} y={751} size={12.6}>rcFe Values</Caption>
        <Caption x={677} y={751} size={12.6}>rcFe Values</Caption>
        <Caption x={1062} y={751} size={12.6}>rcFe Values</Caption>

        <Caption x={186.7} y={119} size={13} anchor="start">r = 0.92</Caption>
        <Caption x={565.3} y={137} size={13} anchor="start">r = 0.94</Caption>
        <Caption x={950} y={113} size={13} anchor="start">r = 0.86</Caption>
        <Caption x={165} y={495} size={13} anchor="start">r=0.26</Caption>
        <Caption x={548.3} y={488} size={13} anchor="start">r=0.29</Caption>
        <Caption x={941.7} y={469} size={13} anchor="start">r=0.27</Caption>
      </svg>
    </div>
  );
}
